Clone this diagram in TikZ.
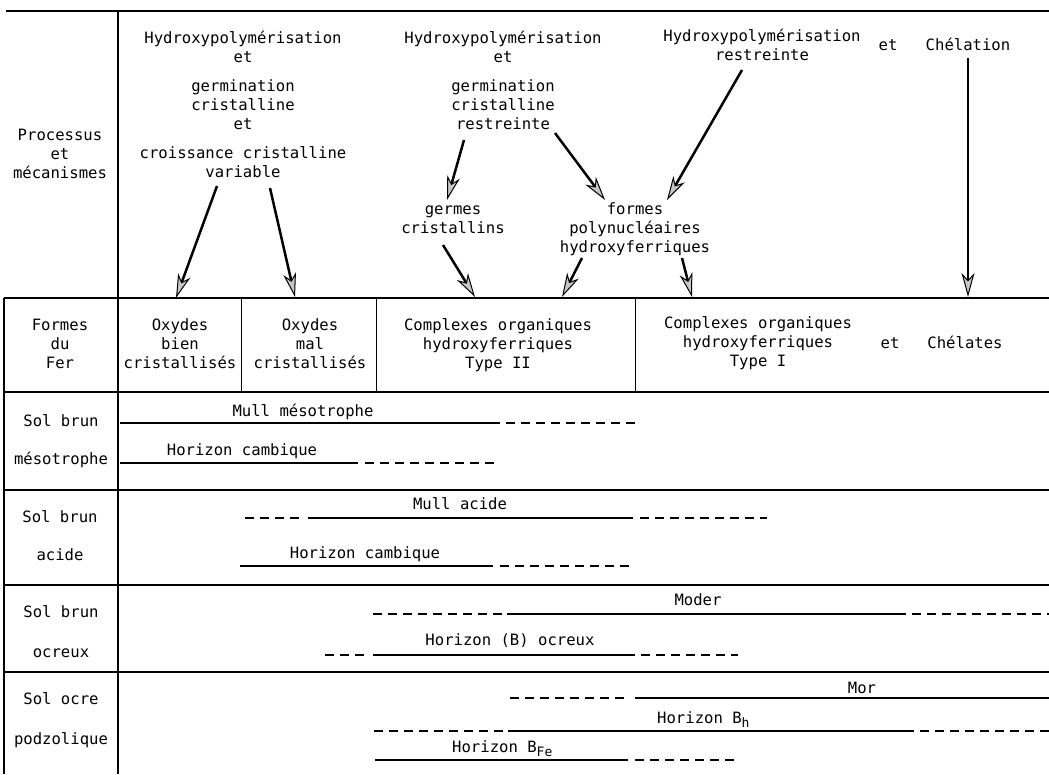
\documentclass[tikz,border=0pt]{standalone}
\usepackage{fontspec}
\newfontfamily\mono{DejaVu Sans Mono}
\usetikzlibrary{arrows.meta}
\newcommand\lowsub[1]{\raisebox{-4pt}{\fontsize{13}{13}\selectfont #1}}
\begin{document}
\begin{tikzpicture}[x=1pt,y=-1pt,
  txt/.style={font=\mono\fontsize{15.6}{19}\selectfont, inner sep=0pt, align=center, anchor=base},
  rule/.style={line width=1.5pt},
  thinrule/.style={line width=0.9pt},
  arr/.style={line width=2.5pt, -{Stealth[length=24pt,width=13pt,inset=7pt,line width=1pt,fill=gray!45]}},
  solidbar/.style={line width=2pt},
  dashbar/.style={line width=2pt, dash pattern=on 9pt off 6pt}]
\useasboundingbox (0,0) rectangle (1049,774);
% table rules
\draw[line width=2pt] (6,11) -- (1049,11);
\draw[rule] (118,11) -- (118,774);
\draw[rule] (4,298) -- (4,774);
\foreach \yy in {298,392,490,585,672} \draw[rule] (4,\yy) -- (1049,\yy);
\foreach \xx in {241,376,635} \draw[thinrule] (\xx,298) -- (\xx,392);
% left column (anchor = baseline of last line)
\node[txt] (proc) at (60,178) {Processus\\et\\mécanismes};
\node[txt] (fer) at (60,368) {Formes\\du\\Fer};
\node[txt] (s1) at (61,464) {Sol brun\\[19pt]mésotrophe};
\node[txt] (s2) at (60,560) {Sol brun\\[19pt]acide};
\node[txt] (s3) at (61,657) {Sol brun\\[21pt]ocreux};
\node[txt] (s4) at (61,744) {Sol ocre\\[21pt]podzolique};
% formes du fer
\node[txt] (ox1) at (180,368) {Oxydes\\bien\\cristallisés};
\node[txt] (ox2) at (310,368) {Oxydes\\mal\\cristallisés};
\node[txt] (c2) at (498,368) {Complexes organiques\\hydroxyferriques\\Type II};
\node[txt] (c1) at (758,366) {Complexes organiques\\hydroxyferriques\\Type I};
\node[txt] (etc) at (890,348) {et};
\node[txt] (chl) at (965,348) {Chélates};
% processus
\node[txt] (g1a) at (243,62) {Hydroxypolymérisation\\et};
\node[txt] (g1b) at (243,129) {germination\\cristalline\\et};
\node[txt] (g1c) at (243,177) {croissance cristalline\\variable};
\node[txt] (g2a) at (503,62) {Hydroxypolymérisation\\et};
\node[txt] (g2b) at (503,129) {germination\\cristalline\\restreinte};
\node[txt] (germ) at (453,233) {germes\\cristallins};
\node[txt] (g3) at (762,60) {Hydroxypolymérisation\\restreinte};
\node[txt] (poly) at (635,252) {formes\\polynucléaires\\hydroxyferriques};
\node[txt] (etp) at (888,50) {et};
\node[txt] (chel) at (968,50) {Chélation};
% arrow end points
\coordinate (a1s) at (217,186); \coordinate (a1e) at (176,298);
\coordinate (a2s) at (270,188); \coordinate (a2e) at (295,297);
\coordinate (a3s) at (464,140); \coordinate (a3e) at (447,200);
\coordinate (a4s) at (443,245); \coordinate (a4e) at (475,297);
\coordinate (a5s) at (555,133); \coordinate (a5e) at (605,200);
\coordinate (a6s) at (742,70);  \coordinate (a6e) at (667,200);
\coordinate (a7s) at (582,258); \coordinate (a7e) at (562,297);
\coordinate (a8s) at (682,258); \coordinate (a8e) at (692,297);
\coordinate (a9s) at (968,58);  \coordinate (a9e) at (968,297);
\foreach \i in {1,...,9} \draw[arr] (a\i s) -- (a\i e);
% soil rows
\node[txt] (mm) at (303,416) {Mull mésotrophe};
\node[txt] (hc1) at (242,455) {Horizon cambique};
\draw[solidbar] (120,423) -- (500,423); \draw[dashbar] (506,423) -- (637,423);
\draw[solidbar] (120,463) -- (358,463); \draw[dashbar] (365,463) -- (498,463);
\node[txt] (ma) at (460,509) {Mull acide};
\node[txt] (hc2) at (365,558) {Horizon cambique};
\draw[dashbar] (245,518) -- (302,518); \draw[solidbar] (308,518) -- (633,518); \draw[dashbar] (640,518) -- (767,518);
\draw[solidbar] (240,566) -- (493,566); \draw[dashbar] (500,566) -- (630,566);
\node[txt] (mod) at (698,605) {Moder};
\node[txt] (hbo) at (510,645) {Horizon (B) ocreux};
\draw[dashbar] (373,614) -- (503,614); \draw[solidbar] (507,614) -- (906,614); \draw[dashbar] (912,614) -- (1049,614);
\draw[dashbar] (325,655) -- (367,655); \draw[solidbar] (373,655) -- (635,655); \draw[dashbar] (641,655) -- (738,655);
\node[txt] (mor) at (862,693) {Mor};
\node[txt, anchor=base west] (hbh) at (657,723) {Horizon B\lowsub{h}};
\node[txt, anchor=base west] (hbfe) at (452,752) {Horizon B\lowsub{Fe}};
\draw[dashbar] (510,698) -- (628,698); \draw[solidbar] (635,698) -- (1049,698);
\draw[dashbar] (374,731) -- (505,731); \draw[solidbar] (508,731) -- (914,731); \draw[dashbar] (920,731) -- (1049,731);
\draw[solidbar] (375,760) -- (628,760); \draw[dashbar] (635,760) -- (735,760);
\end{tikzpicture}
\end{document}
